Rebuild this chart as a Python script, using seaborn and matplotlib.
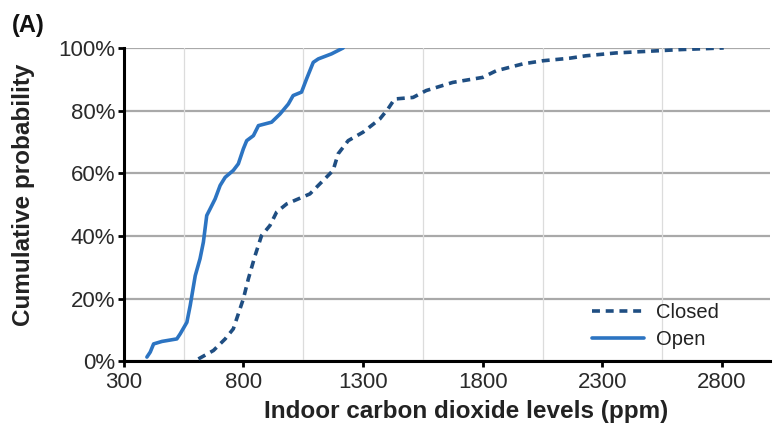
import matplotlib
matplotlib.use("Agg")
import matplotlib.pyplot as plt
import matplotlib.ticker as mticker
import seaborn as sns
import pandas as pd

# Cumulative distribution readings (ppm, cumulative %)
open_ppm = [397, 411, 425, 460, 522, 536, 564, 578, 599, 619, 633, 647, 661, 682, 703,
            724, 758, 779, 800, 814, 842, 863, 918, 953, 988, 1008, 1043, 1064, 1092,
            1113, 1168, 1217]
open_pct = [1.3, 2.9, 5.5, 6.3, 7.1, 8.7, 12.4, 17.8, 27.3, 32.7, 38.0, 46.5, 48.6, 51.8,
            56.1, 58.7, 60.9, 63.0, 67.8, 70.4, 72.0, 75.2, 76.3, 78.9, 82.1, 84.8, 85.9,
            90.1, 95.4, 96.5, 98.1, 100.0]

closed_ppm = [612, 675, 724, 758, 800, 821, 849, 876, 911, 939, 981, 1078, 1126, 1175,
              1196, 1238, 1300, 1370, 1404, 1432, 1509, 1564, 1675, 1800, 1856, 1967,
              2050, 2161, 2231, 2356, 2481, 2633, 2807]
closed_pct = [0.7, 3.4, 7.1, 10.3, 19.9, 26.3, 33.7, 40.1, 43.3, 47.6, 50.2, 53.4, 57.1,
              60.9, 66.2, 70.4, 73.1, 77.3, 80.5, 83.7, 84.2, 86.4, 89.0, 90.6, 92.7,
              94.9, 95.9, 96.7, 97.5, 98.4, 98.9, 99.5, 100.0]

x_ticks = [300, 800, 1300, 1800, 2300, 2800]
y_ticks = [0, 20, 40, 60, 80, 100]

df_closed = pd.DataFrame({"ppm": closed_ppm, "pct": closed_pct})
df_open = pd.DataFrame({"ppm": open_ppm, "pct": open_pct})

sns.set_style("white")
plt.rcParams["font.family"] = ["Liberation Sans", "DejaVu Sans"]

fig = plt.figure(figsize=(7.73, 4.32), dpi=100)
ax = fig.add_axes([0.160, 0.164, 0.836, 0.725])

# grid
for v in y_ticks:
    ax.axhline(v, color="#a9a9a9", lw=1.6, zorder=0)
for v in [550, 1050, 1550, 2050, 2550]:
    ax.axvline(v, color="#dcdcdc", lw=0.9, zorder=0)

sns.lineplot(data=df_closed, x="ppm", y="pct", ax=ax, color="#1f4e82", lw=2.6,
             linestyle=(0, (2.2, 1.6)), label="Closed", sort=False, zorder=3)
sns.lineplot(data=df_open, x="ppm", y="pct", ax=ax, color="#2c74c2", lw=2.6,
             label="Open", sort=False, zorder=3)

ax.set_xlim(300, 3000)
ax.set_ylim(0, 100)
ax.set_xticks(x_ticks)
ax.set_yticks(y_ticks)
ax.yaxis.set_major_formatter(mticker.FuncFormatter(lambda v, p: f"{int(v)}%"))

for s in ["top", "right"]:
    ax.spines[s].set_visible(False)
for s in ["left", "bottom"]:
    ax.spines[s].set_color("black")
    ax.spines[s].set_linewidth(2.2)

ax.tick_params(axis="both", which="major", direction="out", length=4, width=2,
               color="black", labelsize=16, labelcolor="#2a2a2a", pad=2,
               bottom=True, left=True)
ax.tick_params(axis="x", pad=4)

ax.set_xlabel("Indoor carbon dioxide levels (ppm)", fontsize=17.5, fontweight="bold",
              color="#222222")
ax.set_ylabel("Cumulative probability", fontsize=17.5, fontweight="bold",
              color="#222222")
ax.xaxis.set_label_coords(0.53, -0.125)
ax.yaxis.set_label_coords(-0.137, 0.53)

leg = ax.legend(loc="lower right", bbox_to_anchor=(0.933, 0.012), frameon=False,
                fontsize=14.5, handlelength=2.55, handletextpad=0.6, labelspacing=0.4,
                borderaxespad=0)
for t in leg.get_texts():
    t.set_color("#222222")

fig.text(0.016, 0.925, "(A)", fontsize=17, fontweight="bold", color="#111111")

fig.savefig("out.png", dpi=100)
